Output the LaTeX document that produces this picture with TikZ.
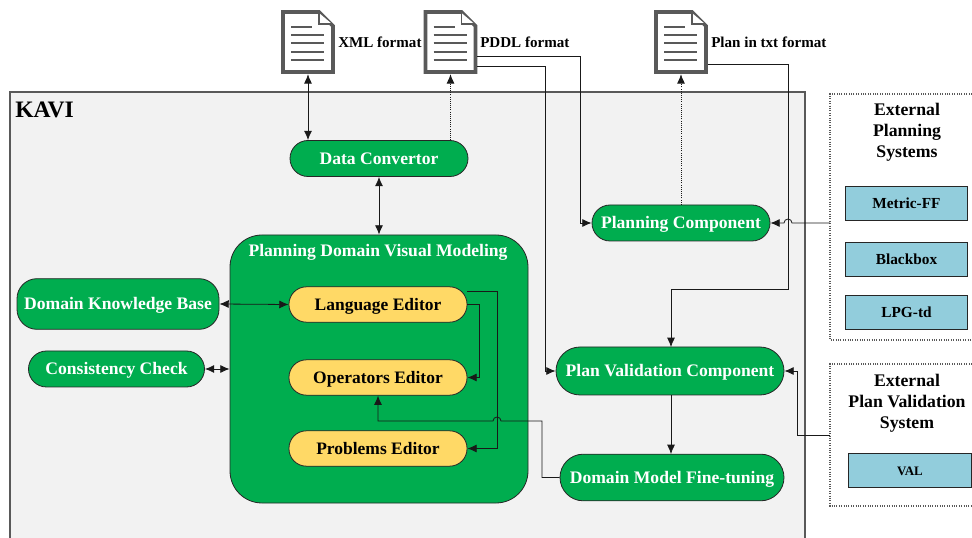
\documentclass[tikz,border=0pt]{standalone}
\usepackage{fontspec}
\usetikzlibrary{arrows.meta}
\setmainfont{Liberation Serif}
\definecolor{kavigreen}{HTML}{00AD4F}
\definecolor{edityellow}{HTML}{FFD966}
\definecolor{sysblue}{HTML}{92CDDC}
\definecolor{framegray}{HTML}{595959}
\tikzset{
    >={Latex[length=7pt, width=6pt]},
    green box/.style={draw=black!85, fill=kavigreen, text=white, font=\fontsize{13.2}{15}\selectfont\bfseries, text height=10pt, text depth=1pt, inner sep=0pt, line width=0.6pt},
    editor box/.style={draw=black!85, fill=edityellow, text=black, font=\fontsize{13.1}{15}\selectfont\bfseries, text height=10pt, text depth=1pt, minimum width=133.5pt, minimum height=26.5pt, rounded corners=13pt, inner sep=0pt, line width=0.6pt},
    system box/.style={draw=black!85, fill=sysblue, font=\fontsize{11.5}{13}\selectfont\bfseries, text height=9pt, text depth=1pt, minimum width=92pt, minimum height=25pt, inner sep=0pt, line width=0.7pt},
    outer box/.style={draw=framegray, densely dotted, line width=0.8pt, fill=white},
    title text/.style={font=\fontsize{13.3}{15.8}\selectfont\bfseries, align=center, inner sep=0pt},
    doc label/.style={font=\fontsize{11.3}{13}\selectfont\bfseries, anchor=west, inner sep=0pt},
    doc node/.style={minimum width=40pt, minimum height=48pt, inner sep=0pt},
    link/.style={line width=0.6pt, black!90},
    doclink/.style={line width=0.6pt, black!90, densely dotted},
    docicon/.pic={
        \draw[framegray, line width=2.8pt, fill=white, line join=miter] (-25,-30) -- (11,-30) -- (25,-16) -- (25,30) -- (-25,30) -- cycle;
        \draw[framegray, line width=0.8pt, fill=white] (11,-29) -- (11,-18) -- (24,-18);
        \draw[framegray, line width=1pt] (-17,-15) -- (4,-15);
        \foreach \ypos in {-7,1,10,18} {
            \draw[framegray, line width=1pt] (-17,\ypos) -- (16,\ypos);
        }
    }
}
\begin{document}
\begin{tikzpicture}[x=0.75pt, y=-0.75pt]
    \useasboundingbox (0,0) rectangle (972,538);

    % KAVI frame
    \fill[black!5] (10,92) rectangle (805,538);
    \draw[framegray, line width=0.8pt] (10,538) -- (10,92) -- (805,92) -- (805,538);
    \node[font=\fontsize{17.7}{20}\selectfont\bfseries, anchor=west, inner sep=0pt] (kavi) at (15,110) {KAVI};

    % external boxes
    \draw[outer box] (972,94) -- (830,94) -- (830,340) -- (972,340);
    \draw[outer box] (972,364) -- (830,364) -- (830,506) -- (972,506);
    \coordinate (extplan) at (830,223);
    \coordinate (extval) at (830,435);
    \node[title text] (extplantitle) at (907,132) {External\\Planning\\Systems};
    \node[title text] (extvaltitle) at (907,403) {External\\Plan Validation\\System};
    \node[system box] (metric) at (906.5,203.5) {Metric-FF};
    \node[system box] (blackbox) at (906.5,259.5) {Blackbox};
    \node[system box] (lpg) at (906.5,312.5) {LPG-td};
    \node[system box, font=\fontsize{9.7}{11}\selectfont\bfseries, minimum height=26pt] (val) at (910,470.5) {VAL};

    % documents
    \node[doc node] (xmldoc) at (308,42) {};
    \node[doc node] (pddldoc) at (450.5,42) {};
    \node[doc node] (plandoc) at (681,42) {};
    \pic at (xmldoc) {docicon};
    \pic at (pddldoc) {docicon};
    \pic at (plandoc) {docicon};
    \node[doc label] (xmllabel) at (338,42) {XML format};
    \node[doc label] (pddllabel) at (480,42) {PDDL format};
    \node[doc label] (planlabel) at (711,42) {Plan in txt format};

    % main nodes
    \node[green box, minimum width=133.5pt, minimum height=27pt, rounded corners=13.5pt] (convertor) at (379,158.5) {Data Convertor};
    \node[green box, minimum width=223.5pt, minimum height=201pt, rounded corners=24pt] (modeling) at (379,369) {};
    \node[green box, draw=none, fill=none] (modelingtitle) at (378,251) {Planning Domain Visual Modeling};
    \node[editor box] (language) at (378,304.5) {Language Editor};
    \node[editor box] (operators) at (378,377.5) {Operators Editor};
    \node[editor box] (problems) at (378,448.5) {Problems Editor};
    \node[green box, minimum width=151.5pt, minimum height=38pt, rounded corners=15pt] (knowledge) at (118,304) {Domain Knowledge Base};
    \node[green box, minimum width=132pt, minimum height=27pt, rounded corners=13.5pt] (consistency) at (116.5,369) {Consistency Check};
    \node[green box, minimum width=133.5pt, minimum height=27pt, rounded corners=13.5pt] (planning) at (681,223) {Planning Component};
    \node[green box, minimum width=171pt, minimum height=36pt, rounded corners=18pt] (validation) at (670,371) {Plan Validation Component};
    \node[green box, minimum width=168pt, minimum height=35pt, rounded corners=17.5pt] (finetuning) at (672,477.5) {Domain Model Fine-tuning};

    % connectors
    \draw[link, <->] (xmldoc.south) -- (xmldoc.south |- convertor.north);
    \draw[doclink, ->] (pddldoc.south |- convertor.north) -- (pddldoc.south);
    \draw[doclink, ->] (planning.north) -- (plandoc.south);
    \draw[link, <->] (convertor.south) -- (convertor.south |- modeling.north);
    \draw[link, <->] (knowledge.east) -- (language.west);
    \draw[link, <->] (consistency.east) -- (modeling.west |- consistency.east);

    \coordinate (pddlupper) at (477,56);
    \coordinate (pddllower) at (477,66);
    \coordinate (planout) at (708,64);
    \draw[link, ->] (pddlupper) -- (580,56) |- (planning.west);
    \draw[link, ->] (pddllower) -- (545,66) |- (validation.west);

    \coordinate (jumpplanA) at (792,223);
    \draw[link, ->] (extplan) -- (jumpplanA) arc[start angle=0, end angle=-180, radius=4] -- (planning.east);
    \draw[link, ->] (planout) -- (788,64) -- (788,289) -- (671,289) -- (671,347);
    \draw[link, ->] (extval) -- (797,435) |- (validation.east);
    \draw[link, ->] (671,395) -- (671,454);

    \coordinate (langupper) at (467,291);
    \coordinate (langlower) at (467,304);
    \draw[link, ->] (langlower) -- (479,304) |- (operators.east);
    \draw[link, ->] (langupper) -- (497,291) |- (problems.east);

    \coordinate (jumpeditA) at (501,421);
    \draw[link, ->] (finetuning.west) -- (542,477.5) -- (542,421) -- (jumpeditA) arc[start angle=0, end angle=-180, radius=4] -- (378,421) -- (operators.south);
\end{tikzpicture}
\end{document}
